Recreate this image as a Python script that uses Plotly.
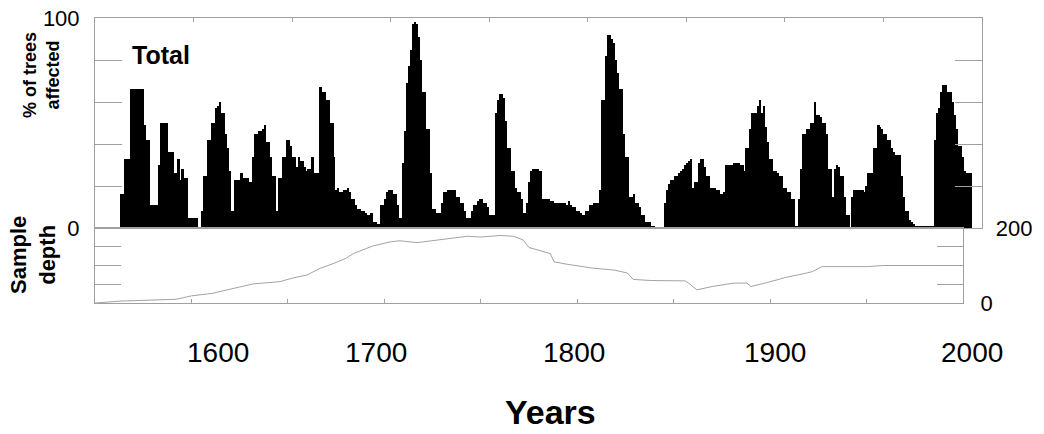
import plotly.graph_objects as go

# % of trees affected, one value per year starting at first_year
first_year = 1560
pct_affected = [
    0, 0, 0, 16, 16, 33, 33, 33, 66, 66,        # 1560s
    66, 66, 66, 66, 66, 49, 42, 42, 11, 11,     # 1570s
    11, 11, 30, 50, 50, 50, 50, 36, 36, 36,     # 1580s
    26, 26, 33, 23, 28, 24, 24, 5, 5, 5,        # 1590s
    5, 5, 0, 0, 8, 25, 25, 42, 42, 50,          # 1600s
    50, 57, 58, 60, 55, 55, 45, 38, 27, 8,      # 1610s
    8, 23, 23, 23, 26, 24, 24, 24, 22, 22,      # 1620s
    34, 45, 45, 46, 46, 47, 49, 41, 41, 34,     # 1630s
    25, 25, 8, 24, 24, 34, 34, 42, 42, 39,      # 1640s
    34, 34, 29, 34, 32, 32, 29, 27, 28, 28,     # 1650s
    34, 26, 26, 26, 67, 65, 65, 61, 61, 50,     # 1660s
    50, 34, 18, 19, 17, 17, 18, 18, 19, 17,     # 1670s
    14, 14, 11, 9, 9, 8, 8, 7, 6, 6,            # 1680s
    7, 3, 3, 2, 2, 11, 11, 14, 17, 18,          # 1690s
    18, 16, 16, 11, 5, 5, 31, 46, 69, 77,       # 1700s
    85, 97, 98, 97, 91, 80, 65, 65, 47, 47,     # 1710s
    26, 9, 9, 7, 7, 7, 12, 17, 17, 18,          # 1720s
    18, 18, 18, 15, 15, 12, 12, 8, 5, 5,        # 1730s
    5, 8, 11, 11, 13, 14, 14, 12, 12, 10,       # 1740s
    6, 6, 6, 55, 61, 64, 64, 62, 51, 38,        # 1750s
    38, 27, 27, 19, 17, 17, 14, 7, 7, 12,       # 1760s
    22, 27, 28, 28, 28, 27, 27, 14, 14, 14,     # 1770s
    14, 13, 13, 12, 12, 12, 12, 12, 12, 11,     # 1780s
    13, 11, 10, 10, 8, 8, 7, 6, 6, 8,           # 1790s
    8, 11, 11, 12, 12, 12, 18, 61, 61, 82,      # 1800s
    92, 92, 90, 88, 80, 74, 66, 66, 45, 34,     # 1810s
    34, 15, 15, 16, 12, 12, 10, 6, 6, 3,        # 1820s
    3, 3, 1, 1, 0, 0, 0, 0, 0, 12,              # 1830s
    18, 21, 23, 23, 25, 25, 26, 27, 28, 30,     # 1840s
    31, 32, 33, 19, 22, 22, 31, 33, 33, 29,     # 1850s
    25, 25, 19, 19, 19, 18, 18, 16, 16, 17,     # 1860s
    30, 30, 30, 30, 31, 31, 31, 30, 30, 27,     # 1870s
    38, 38, 47, 55, 55, 55, 58, 61, 55, 58,     # 1880s
    48, 41, 33, 33, 27, 27, 26, 25, 25, 19,     # 1890s
    19, 17, 17, 14, 14, 1, 1, 14, 28, 45,       # 1900s
    45, 47, 47, 50, 50, 60, 54, 54, 53, 50,     # 1910s
    50, 45, 28, 28, 15, 28, 30, 29, 25, 25,     # 1920s
    15, 6, 6, 0, 15, 18, 18, 18, 18, 18,        # 1930s
    17, 20, 26, 26, 26, 38, 38, 49, 48, 47,     # 1940s
    45, 45, 42, 42, 38, 36, 35, 35, 35, 25,     # 1950s
    15, 8, 8, 4, 3, 2, 1, 1, 1, 1,              # 1960s
    1, 1, 1, 1, 1, 1, 42, 55, 57, 65,           # 1970s
    68, 68, 65, 65, 65, 60, 54, 47, 39, 39,     # 1980s
    34, 27, 26, 26, 26,                         # 1990s
]
years = list(range(first_year, first_year + len(pct_affected)))

# sample depth (number of trees)
depth_years = [1550, 1563, 1592, 1600, 1611, 1625, 1632, 1646, 1652, 1660,
               1667, 1674, 1680, 1684, 1694, 1703, 1708, 1717, 1725, 1734,
               1743, 1750, 1757, 1760, 1767, 1772, 1775, 1786, 1788, 1794,
               1808, 1819, 1826, 1829, 1838, 1856, 1859, 1862, 1870, 1881,
               1888, 1890, 1898, 1908, 1919, 1922, 1927, 1950, 1959, 1994]
depth_values = [0, 5, 10, 19, 26, 44, 51, 57, 66, 75,
                93, 106, 119, 132, 152, 163, 166, 161, 166, 172,
                178, 176, 180, 180, 178, 168, 148, 132, 110, 104,
                93, 88, 80, 63, 60, 59, 48, 35, 44, 53,
                53, 44, 54, 68, 80, 84, 97, 97, 100, 100]

year_labels = ["1600", "1700", "1800", "1900", "2000"]
year_label_pos = [218, 376, 574, 775, 972]  # pixel centres of the labels

W, H = 1044, 434
FRAME = "#a0a0a0"
SANS = "Liberation Sans, Arial, sans-serif"

fig = go.Figure()
fig.add_trace(go.Bar(x=years, y=pct_affected, width=1, offset=0,
                     marker=dict(color="black", line=dict(width=0)),
                     xaxis="x", yaxis="y"))
fig.add_trace(go.Scatter(x=depth_years, y=depth_values, mode="lines",
                         line=dict(color="#a3a3a3", width=1),
                         xaxis="x2", yaxis="y2"))

decade_ticks = list(range(1600, 2000, 50))
xcommon = dict(range=[1550, 2000], tickvals=decade_ticks, ticks="inside", ticklen=4,
               tickcolor=FRAME, showticklabels=False, showline=True, linecolor=FRAME,
               mirror=True, showgrid=False, zeroline=False, automargin=False)

fig.update_layout(
    width=W, height=H, margin=dict(l=0, r=0, t=0, b=0, autoexpand=False),
    paper_bgcolor="white", plot_bgcolor="white",
    showlegend=False, bargap=0,
    xaxis=dict(domain=[95 / W, 982 / W], anchor="y", side="top", **xcommon),
    xaxis2=dict(domain=[95 / W, 963 / W], anchor="y2", side="bottom", **xcommon),
    yaxis=dict(domain=[1 - 228 / H, 1 - 18 / H], anchor="x", range=[0, 100],
               tickvals=[0, 20, 40, 60, 80, 100], ticktext=["0", "", "", "", "", "100"],
               ticks="inside", ticklen=27, tickcolor=FRAME, showline=True, linecolor=FRAME,
               mirror="ticks", showgrid=False, zeroline=False, ticklabelstandoff=10,
               automargin=False, tickfont=dict(family=SANS, size=22, color="black")),
    yaxis2=dict(domain=[1 - 303 / H, 1 - 228 / H], anchor="x2", side="right", range=[0, 200],
                tickvals=[0, 50, 100, 150, 200],
                ticktext=["0", "", "", "", "\u2002\u2009200"],
                ticks="inside", ticklen=26, tickcolor=FRAME, showline=True, linecolor=FRAME,
                mirror="ticks", showgrid=False, zeroline=False, ticklabelstandoff=12,
                automargin=False, tickfont=dict(family=SANS, size=22, color="black")),
)

fig.add_annotation(text="<b>Total</b>", x=161 / W, y=1 - 55 / H, xref="paper", yref="paper",
                   showarrow=False, font=dict(family=SANS, size=25, color="black"),
                   xanchor="center", yanchor="middle")
fig.add_annotation(text="<b>% of trees<br>affected</b>", x=42 / W, y=1 - 75 / H,
                   xref="paper", yref="paper", showarrow=False, textangle=-90,
                   font=dict(family=SANS, size=18, color="black"),
                   xanchor="center", yanchor="middle")
fig.add_annotation(text="<b>Sample<br>depth</b>", x=33 / W, y=1 - 255 / H,
                   xref="paper", yref="paper", showarrow=False, textangle=-90,
                   font=dict(family=SANS, size=22, color="black"),
                   xanchor="center", yanchor="middle")
fig.add_annotation(text="<b>Years</b>", x=550 / W, y=1 - 412 / H, xref="paper", yref="paper",
                   showarrow=False, font=dict(family=SANS, size=34, color="black"),
                   xanchor="center", yanchor="middle")
for lab, px in zip(year_labels, year_label_pos):
    fig.add_annotation(text=lab, x=px / W, y=1 - 352 / H, xref="paper", yref="paper",
                       showarrow=False, font=dict(family=SANS, size=28, color="black"),
                       xanchor="center", yanchor="middle")

# the page body has a default 8px margin; drop it so the figure sits at the corner
fig.write_html("out.html", config={"displayModeBar": False},
               post_script="document.body.style.margin='0';")
